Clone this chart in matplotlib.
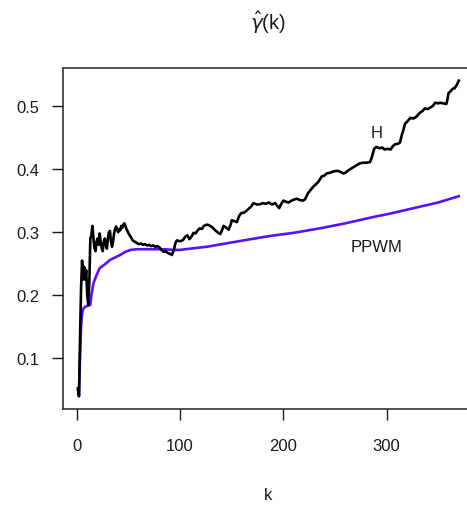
import matplotlib
matplotlib.use("Agg")
import matplotlib.pyplot as plt

# --- data ---
H_K = [1, 2, 3, 4, 5, 6, 7, 8, 9, 10, 11, 12, 13, 14, 15, 16, 17, 18, 19, 20,
       21, 22, 23, 24, 25, 26, 27, 28, 29, 30, 31, 32, 33, 34, 35, 36, 37, 38, 39, 40,
       41, 42, 43, 44, 45, 46, 47, 48, 49, 50, 52, 54, 56, 58, 60, 62, 64, 66, 68, 70,
       72, 74, 76, 78, 80, 82, 84, 86, 88, 90, 92, 93, 94, 95, 96, 97, 99, 101, 103, 105,
       107, 109, 111, 113, 115, 117, 119, 121, 123, 126, 128, 131, 134, 137, 139, 141, 142, 144, 147, 149,
       150, 152, 155, 157, 159, 162, 165, 167, 169, 171, 174, 177, 180, 183, 186, 189, 192, 194, 196, 198,
       200, 203, 205, 208, 211, 213, 216, 219, 221, 224, 226, 229, 231, 234, 236, 237, 240, 242, 245, 248,
       251, 253, 256, 258, 260, 263, 266, 269, 272, 274, 277, 280, 284, 286, 288, 290, 293, 296, 298, 301,
       304, 306, 308, 311, 313, 315, 316, 318, 320, 323, 326, 329, 331, 333, 335, 337, 340, 342, 345, 347,
       350, 352, 355, 358, 359, 360, 362, 364, 366, 368, 370]
H_VAL = [0.053, 0.040, 0.130, 0.210, 0.255, 0.225, 0.245, 0.225, 0.240, 0.200,
         0.185, 0.220, 0.290, 0.295, 0.310, 0.290, 0.275, 0.270, 0.285, 0.290,
         0.280, 0.298, 0.285, 0.275, 0.270, 0.285, 0.290, 0.280, 0.274, 0.290,
         0.300, 0.302, 0.285, 0.277, 0.285, 0.298, 0.305, 0.309, 0.303, 0.300,
         0.305, 0.303, 0.310, 0.307, 0.312, 0.314, 0.310, 0.305, 0.302, 0.298,
         0.293, 0.287, 0.285, 0.283, 0.281, 0.282, 0.280, 0.281, 0.279, 0.280,
         0.278, 0.279, 0.277, 0.278, 0.276, 0.272, 0.269, 0.270, 0.267, 0.266,
         0.264, 0.268, 0.272, 0.280, 0.285, 0.287, 0.286, 0.286, 0.288, 0.293,
         0.295, 0.289, 0.293, 0.299, 0.298, 0.303, 0.306, 0.305, 0.310, 0.312,
         0.311, 0.308, 0.303, 0.299, 0.297, 0.305, 0.310, 0.308, 0.304, 0.312,
         0.319, 0.318, 0.316, 0.325, 0.330, 0.331, 0.335, 0.338, 0.341, 0.346,
         0.344, 0.344, 0.346, 0.345, 0.347, 0.344, 0.346, 0.342, 0.338, 0.345,
         0.350, 0.348, 0.347, 0.350, 0.352, 0.353, 0.351, 0.350, 0.352, 0.362,
         0.366, 0.372, 0.375, 0.380, 0.385, 0.388, 0.390, 0.393, 0.394, 0.396,
         0.397, 0.397, 0.395, 0.393, 0.394, 0.398, 0.401, 0.404, 0.407, 0.409,
         0.410, 0.410, 0.411, 0.420, 0.432, 0.435, 0.433, 0.434, 0.431, 0.432,
         0.431, 0.436, 0.439, 0.440, 0.442, 0.455, 0.460, 0.472, 0.475, 0.481,
         0.480, 0.483, 0.487, 0.490, 0.492, 0.496, 0.495, 0.497, 0.500, 0.505,
         0.504, 0.505, 0.504, 0.503, 0.510, 0.520, 0.523, 0.527, 0.528, 0.533,
         0.540]

PPWM_K = [1, 2, 3, 4, 5, 6, 8, 10, 13, 14, 16, 19, 22, 27, 32, 37, 42, 47, 52, 58,
          65, 75, 85, 94, 100, 110, 126, 140, 158, 165, 187, 210, 235, 260, 287, 305, 326, 350, 370]
PPWM_VAL = [0.050, 0.042, 0.100, 0.150, 0.171, 0.178, 0.182, 0.183, 0.185, 0.200,
            0.219, 0.232, 0.243, 0.249, 0.256, 0.260, 0.264, 0.269, 0.272, 0.273,
            0.273, 0.273, 0.273, 0.272, 0.272, 0.274, 0.277, 0.281, 0.286, 0.288,
            0.294, 0.299, 0.306, 0.314, 0.324, 0.330, 0.338, 0.347, 0.357]

X_TICKS = [0, 100, 200, 300]
Y_TICKS = [0.1, 0.2, 0.3, 0.4, 0.5]

# --- style ---
FONT = ['Liberation Sans', 'DejaVu Sans']
H_COLOR = '#000000'
PPWM_COLOR = '#5a12f4'
TEXT_COLOR = '#1a1a1a'
LINE_W = 1.9

plt.rcParams['font.family'] = FONT
plt.rcParams['mathtext.fontset'] = 'dejavusans'

fig = plt.figure(figsize=(4.67, 5.06), dpi=100)
ax = fig.add_axes([0.1343, 0.1897, 0.8807, 0.6739])

ax.plot(H_K, H_VAL, color=H_COLOR, lw=LINE_W, zorder=3)
ax.plot(PPWM_K, PPWM_VAL, color=PPWM_COLOR, lw=LINE_W, zorder=2)

ax.text(290, 0.458, "H", fontsize=12, ha='center', va='center', color=TEXT_COLOR)
ax.text(290, 0.278, "PPWM", fontsize=12, ha='center', va='center', color=TEXT_COLOR)

ax.set_xlim(-13.76, 384.76)
ax.set_ylim(0.02, 0.56)
ax.set_xticks(X_TICKS)
ax.set_xticklabels([str(t) for t in X_TICKS])
ax.set_yticks(Y_TICKS)
ax.set_yticklabels([f"{t:.1f}" for t in Y_TICKS])

ax.tick_params(axis='x', length=8, width=1, pad=13, labelsize=12, colors=TEXT_COLOR)
ax.tick_params(axis='y', length=8, width=1, pad=9, labelsize=12, colors=TEXT_COLOR)
for side in ax.spines.values():
    side.set_linewidth(1.2)
    side.set_color('#333333')

ax.set_xlabel("k", fontsize=12, labelpad=24, color=TEXT_COLOR)
fig.text(0.573, 0.954, r"$\hat{\gamma}$(k)", fontsize=14.5, ha='center', va='center',
         color=TEXT_COLOR)

fig.savefig("out.png", dpi=100)
